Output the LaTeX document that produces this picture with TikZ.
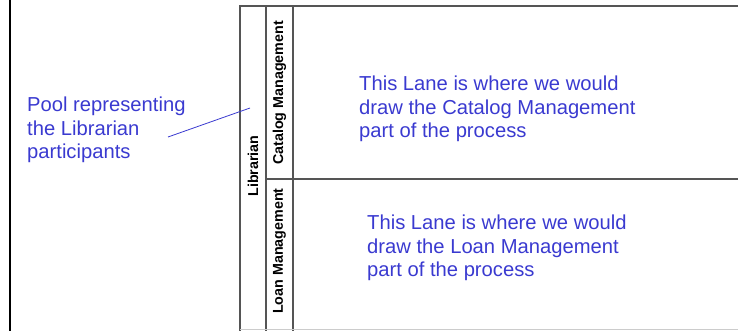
\documentclass[tikz,border=0pt]{standalone}
\usepackage{fontspec}
\setmainfont{Liberation Sans}
\definecolor{noteblue}{RGB}{58,58,208}
\definecolor{laneline}{RGB}{85,85,85}
\begin{document}
\begin{tikzpicture}[x=1pt,y=-1pt,
  lane/.style={draw=laneline, line width=1.6pt},
  note/.style={text=noteblue, font=\fontsize{20.2}{23.5}\selectfont, align=left, inner sep=0pt, anchor=west},
  lanelabel/.style={font=\bfseries\fontsize{14.3}{16}\selectfont, rotate=90, inner sep=0pt}]
  \useasboundingbox (0,0) rectangle (738,330);
  % frame edge on the left
  \draw[line width=2pt] (10,-1) -- (10,331);
  % pool and lanes
  \draw[lane] (739,6) -- (240,6) -- (240,331);
  \draw[lane] (266,6) -- (266,331);
  \draw[lane] (293,6) -- (293,331);
  \draw[lane] (266,179) -- (739,179);
  \draw[black!20, line width=1pt] (240,329) -- (739,329);
  % labels
  \node[lanelabel] (pool) at (253,166) {Librarian};
  \node[lanelabel] (catalog) at (279.5,93) {Catalog Management};
  \node[lanelabel] (loan) at (279.5,251) {Loan Management};
  % notes
  \node[note] (poolnote) at (27,130) {Pool representing\\the Librarian\\participants};
  \node[note] (catalognote) at (359,109) {This Lane is where we would\\draw the Catalog Management\\part of the process};
  \node[note] (loannote) at (367,248) {This Lane is where we would\\draw the Loan Management\\part of the process};
  \coordinate (pooltip) at (250,108);
  \draw[noteblue, line width=0.8pt] (168,137) -- (pooltip);
\end{tikzpicture}
\end{document}
